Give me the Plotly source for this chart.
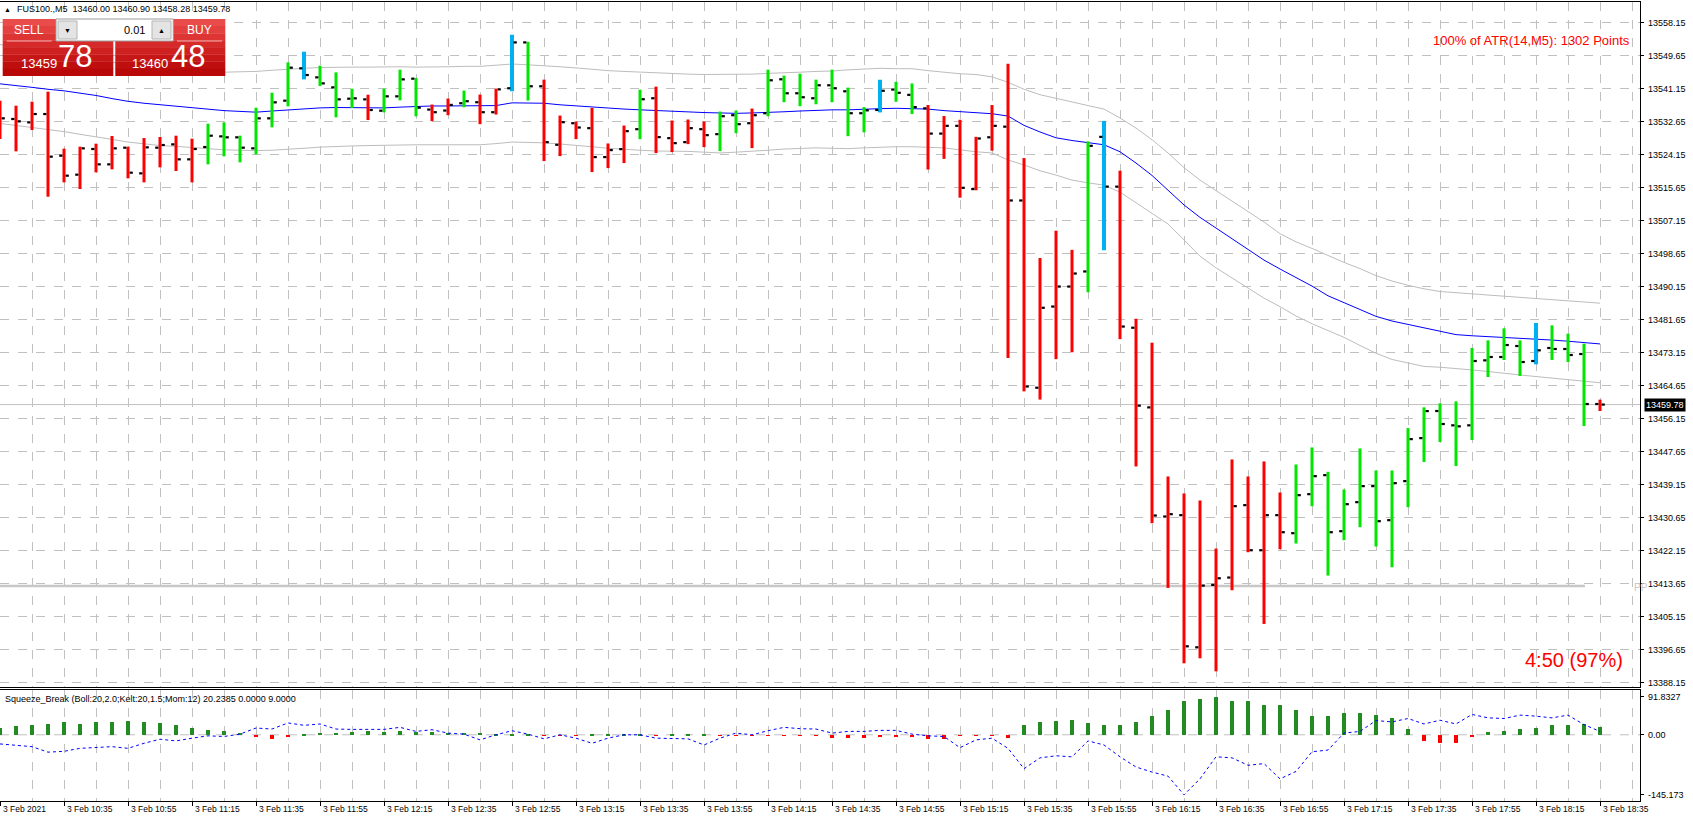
import plotly.graph_objects as go

# FUS100., M5 - bar index 0 = 3 Feb 2021 10:15, one bar every 5 minutes
opens = [
    13536.00, 13533.34, 13532.48, 13534.62, 13523.89, 13519.00, 13525.61, 13521.66, 13525.95, 13519.34,
    13525.95, 13526.81, 13522.95, 13526.12, 13528.87, 13528.62, 13525.78, 13533.51, 13538.06, 13546.39,
    13544.07, 13541.49, 13538.57, 13538.40, 13535.48, 13539.18, 13543.73, 13535.77, 13535.52, 13537.40,
    13537.66, 13535.09, 13541.26, 13553.07, 13541.77, 13526.70, 13532.26, 13530.98, 13523.53, 13525.58,
    13530.72, 13538.69, 13528.41, 13527.38, 13530.72, 13529.44, 13534.32, 13532.26, 13534.83, 13543.57,
    13539.97, 13538.69, 13542.03, 13540.48, 13534.83, 13535.67, 13540.93, 13539.56, 13536.09, 13529.58,
    13531.58, 13515.29, 13528.63, 13531.37, 13512.35, 13464.12, 13485.03, 13490.18, 13494.07, 13528.74,
    13515.92, 13479.57, 13459.05, 13430.94, 13431.29, 13397.25, 13413.32, 13415.22, 13433.87, 13422.26,
    13431.29, 13426.65, 13436.70, 13441.60, 13427.16, 13434.64, 13438.77, 13430.00, 13440.06, 13451.14,
    13458.12, 13454.43, 13454.43, 13471.17, 13472.03, 13474.86, 13471.00, 13474.35, 13474.09, 13472.80,
    13459.92,
]
highs = [
    13538.06, 13536.77, 13537.80, 13540.38, 13525.70, 13526.21, 13526.98, 13528.96, 13526.21, 13528.44,
    13528.70, 13529.04, 13528.27, 13532.13, 13532.48, 13529.04, 13536.26, 13540.12, 13547.93, 13550.68,
    13547.08, 13545.36, 13541.15, 13539.60, 13541.15, 13546.04, 13543.90, 13537.06, 13538.60, 13540.66,
    13539.63, 13541.17, 13555.04, 13553.24, 13543.48, 13534.23, 13532.69, 13536.20, 13527.04, 13531.66,
    13540.91, 13541.68, 13532.95, 13533.21, 13532.69, 13535.26, 13535.52, 13536.03, 13546.05, 13544.51,
    13545.02, 13543.48, 13546.05, 13541.43, 13536.41, 13543.45, 13542.92, 13542.50, 13536.94, 13534.10,
    13533.15, 13528.74, 13536.94, 13547.55, 13523.28, 13497.53, 13504.57, 13499.64, 13527.58, 13532.84,
    13520.02, 13481.88, 13475.72, 13441.26, 13436.88, 13435.07, 13422.69, 13445.64, 13441.26, 13445.13,
    13437.13, 13444.35, 13448.74, 13442.46, 13437.91, 13448.48, 13442.81, 13442.81, 13453.72, 13459.07,
    13460.10, 13460.61, 13474.35, 13476.32, 13479.42, 13476.32, 13480.79, 13480.19, 13478.04, 13475.47,
    13461.04,
]
lows = [
    13528.19, 13525.01, 13530.50, 13513.33, 13517.02, 13515.31, 13519.60, 13520.37, 13518.05, 13517.02,
    13520.89, 13519.94, 13517.02, 13521.66, 13523.72, 13522.18, 13524.24, 13531.19, 13536.60, 13543.55,
    13541.84, 13533.77, 13536.17, 13533.08, 13535.05, 13538.15, 13534.02, 13532.78, 13534.32, 13536.37,
    13532.01, 13534.49, 13540.48, 13538.09, 13522.50, 13523.78, 13528.15, 13519.67, 13520.70, 13521.99,
    13528.15, 13524.56, 13524.81, 13526.87, 13526.10, 13525.07, 13529.69, 13525.84, 13534.06, 13537.66,
    13536.63, 13537.14, 13537.66, 13528.92, 13529.90, 13535.04, 13537.78, 13534.62, 13520.33, 13523.07,
    13513.08, 13514.98, 13525.17, 13471.79, 13463.18, 13461.07, 13471.48, 13473.26, 13488.71, 13499.53,
    13476.63, 13443.84, 13429.22, 13412.55, 13393.13, 13394.42, 13391.06, 13411.95, 13421.75, 13403.27,
    13422.52, 13423.98, 13433.61, 13415.73, 13424.84, 13428.20, 13423.21, 13417.88, 13433.35, 13444.99,
    13450.14, 13443.96, 13450.65, 13466.88, 13471.26, 13467.14, 13470.14, 13471.26, 13470.74, 13454.26,
    13458.12,
]
closes = [
    13533.51, 13532.74, 13534.62, 13523.64, 13518.74, 13525.78, 13521.66, 13525.78, 13519.51, 13526.04,
    13526.64, 13522.95, 13525.61, 13529.04, 13528.62, 13525.95, 13533.51, 13537.63, 13546.56, 13544.67,
    13542.52, 13538.40, 13538.66, 13535.66, 13539.18, 13543.55, 13536.26, 13535.09, 13536.97, 13537.92,
    13535.09, 13540.98, 13553.07, 13541.77, 13527.38, 13532.52, 13531.15, 13523.53, 13525.33, 13530.21,
    13538.43, 13528.67, 13527.12, 13530.98, 13529.18, 13534.06, 13532.01, 13534.32, 13543.31, 13539.97,
    13538.94, 13542.03, 13541.26, 13534.83, 13535.57, 13540.61, 13540.09, 13536.41, 13529.58, 13531.58,
    13515.61, 13528.32, 13531.58, 13512.35, 13464.44, 13484.71, 13490.18, 13493.54, 13526.43, 13515.92,
    13479.88, 13459.50, 13431.20, 13431.55, 13397.51, 13413.15, 13415.04, 13433.61, 13422.26, 13431.29,
    13426.90, 13436.44, 13441.34, 13426.90, 13434.12, 13438.77, 13429.74, 13439.54, 13450.88, 13458.10,
    13454.77, 13454.17, 13471.00, 13472.03, 13475.12, 13470.74, 13473.75, 13474.09, 13472.55, 13459.92,
    13459.78,
]
# r = red, g = green, c = cyan (bar colouring of the indicator)
bar_colors = list(
    "rrrrrrrrrrrrrggggggcgggrgggrrgrrcgrrrrrrgrrrrggrgggggggcggrrrrrrrrrrgcrrrrrrrrrrrgggggggggggggggcgggr"
)

mid_line = [
    13542.4, 13542.0, 13541.5, 13541.0, 13540.6, 13540.0, 13539.4, 13538.6, 13537.9, 13537.4,
    13537.0, 13536.6, 13536.2, 13535.8, 13535.5, 13535.3, 13535.1, 13535.4, 13535.7, 13535.9,
    13536.2, 13536.3, 13536.3, 13536.3, 13536.2, 13536.4, 13536.6, 13536.7, 13536.7, 13536.7,
    13536.8, 13536.8, 13537.5, 13537.5, 13537.4, 13537.0, 13536.7, 13536.4, 13536.1, 13535.9,
    13535.7, 13535.5, 13535.4, 13535.2, 13535.0, 13534.9, 13534.8, 13534.9, 13535.0, 13535.2,
    13535.4, 13535.6, 13535.7, 13535.7, 13535.9, 13536.0, 13536.1, 13536.0, 13535.9, 13535.5,
    13535.2, 13534.9, 13534.7, 13534.1, 13531.7, 13530.0, 13528.5, 13527.8, 13527.2, 13526.7,
    13524.9, 13522.0, 13518.8, 13515.0, 13511.2, 13508.0, 13505.2, 13502.6, 13499.7, 13497.0,
    13494.7, 13492.5, 13490.3, 13487.8, 13486.0, 13484.3, 13482.5, 13481.3, 13480.4, 13479.6,
    13478.6, 13477.8, 13477.5, 13477.3, 13477.1, 13476.9, 13476.7, 13476.4, 13476.1, 13475.8,
    13475.4,
]
upper_band = [
    13552.5, 13552.0, 13551.4, 13550.8, 13550.0, 13549.3, 13548.6, 13547.9, 13547.3, 13546.8,
    13546.4, 13546.0, 13545.7, 13545.5, 13545.4, 13545.5, 13545.6, 13545.9, 13546.2, 13546.4,
    13546.6, 13546.7, 13546.7, 13546.7, 13546.8, 13546.8, 13546.7, 13546.7, 13546.8, 13546.9,
    13546.9, 13547.2, 13547.5, 13547.3, 13547.1, 13546.8, 13546.5, 13546.1, 13545.8, 13545.6,
    13545.4, 13545.2, 13545.0, 13544.9, 13544.8, 13544.8, 13544.9, 13544.9, 13545.1, 13545.2,
    13545.4, 13545.6, 13545.7, 13546.0, 13546.2, 13546.4, 13546.3, 13546.3, 13545.8, 13545.4,
    13545.0, 13544.8, 13544.2, 13542.8, 13541.0, 13539.6, 13538.6, 13537.7, 13536.8, 13535.9,
    13533.6, 13531.0, 13528.0, 13524.6, 13520.8, 13517.6, 13514.9, 13512.3, 13509.7, 13506.8,
    13503.8, 13501.7, 13500.0, 13498.1, 13496.4, 13494.8, 13493.0, 13491.6, 13490.5, 13489.6,
    13488.9, 13488.6, 13488.3, 13488.0, 13487.7, 13487.4, 13487.1, 13486.8, 13486.5, 13486.2,
    13485.9,
]
lower_band = [
    13532.2, 13531.7, 13531.2, 13530.6, 13530.1, 13529.4, 13528.8, 13528.1, 13527.4, 13527.0,
    13526.5, 13526.3, 13526.0, 13525.7, 13525.4, 13525.3, 13525.2, 13525.3, 13525.5, 13525.8,
    13526.1, 13526.3, 13526.4, 13526.5, 13526.6, 13526.6, 13526.7, 13526.7, 13526.7, 13526.7,
    13526.7, 13527.0, 13527.4, 13527.3, 13527.2, 13526.9, 13526.6, 13526.2, 13525.8, 13525.5,
    13525.3, 13525.1, 13525.1, 13525.0, 13524.8, 13524.6, 13524.8, 13525.0, 13525.3, 13525.6,
    13525.8, 13525.9, 13525.8, 13525.7, 13525.9, 13526.1, 13526.2, 13526.2, 13526.0, 13525.9,
    13525.4, 13524.9, 13524.6, 13522.8, 13521.5, 13520.0, 13518.9, 13517.6, 13516.9, 13516.3,
    13514.5, 13511.8, 13509.2, 13506.3, 13502.2, 13498.0, 13495.0, 13492.4, 13489.8, 13487.2,
    13485.0, 13482.6, 13480.6, 13478.8, 13477.1, 13475.0, 13473.0, 13471.4, 13470.5, 13469.6,
    13469.4, 13469.1, 13468.7, 13468.3, 13467.8, 13467.4, 13467.0, 13466.6, 13466.2, 13465.8,
    13465.4,
]

squeeze_hist = [
    18.6, 22.7, 24.3, 26.7, 31.6, 26.7, 31.6, 31.6, 34.0, 31.6,
    29.2, 24.3, 17.0, 12.2, 9.7, 4.9, -4.0, -8.9, -4.0, 2.4,
    4.9, 4.9, 7.3, 9.7, 7.3, 9.7, 7.3, 7.3, 4.9, 4.9,
    4.9, 2.4, 2.4, 1.6, -1.6, -1.6, -1.6, 1.6, 1.6, 1.6,
    0.8, -1.6, 1.6, 1.6, 1.6, -1.6, -1.6, -1.6, -0.8, -1.6,
    -1.6, -1.6, -6.5, -6.5, -6.5, -4.0, -4.0, -4.0, -8.9, -8.9,
    -1.6, -1.6, -1.6, -6.5, 24.3, 31.6, 34.0, 36.5, 29.2, 24.3,
    24.3, 31.6, 46.2, 60.8, 82.6, 87.5, 91.8, 82.6, 82.6, 72.9,
    72.9, 60.8, 46.2, 46.2, 53.5, 53.5, 48.6, 41.3, 14.6, -14.6,
    -18.6, -18.6, -4.0, 7.3, 9.7, 14.6, 17.0, 24.3, 24.3, 26.7,
    20.2,
]
squeeze_mom = [
    -22.1, -24.6, -28.7, -42.0, -40.0, -32.8, -30.3, -28.7, -32.8, -20.5,
    -10.7, -14.8, -8.2, -2.5, -4.1, 1.6, 16.4, 13.9, 28.7, 23.0,
    26.2, 13.9, 13.1, 13.1, 13.1, 18.0, 8.2, 12.3, 4.1, 1.6,
    -12.3, 0.0, 9.8, 1.6, -9.8, 0.0, -8.2, -20.5, -8.2, 0.0,
    0.0, -8.2, -8.2, -9.8, -24.6, -8.2, 4.1, 0.0, 9.8, 18.0,
    14.8, 13.9, 4.1, 8.2, 8.2, 10.7, 10.7, 1.6, -2.5, -4.1,
    -31.2, -12.3, -8.2, -32.8, -82.0, -55.8, -50.8, -53.3, -14.8, -24.6,
    -53.3, -77.9, -90.2, -100.0, -145.2, -106.6, -53.3, -55.8, -73.8, -69.7,
    -106.6, -88.6, -41.0, -36.9, 4.1, 8.2, 34.4, 31.2, 39.4, 26.2,
    35.3, 26.2, 49.2, 41.0, 39.4, 47.6, 45.1, 41.0, 47.6, 24.6,
    8.2,
]

price_ticks = [
    13558.15, 13549.65, 13541.15, 13532.65, 13524.15, 13515.65, 13507.15, 13498.65, 13490.15, 13481.65,
    13473.15, 13464.65, 13456.15, 13447.65, 13439.15, 13430.65, 13422.15, 13413.65, 13405.15, 13396.65,
    13388.15,
]
time_ticks = [0, 4, 8, 12, 16, 20, 24, 28, 32, 36, 40, 44, 48, 52, 56, 60, 64, 68, 72, 76, 80, 84, 88, 92, 96, 100]
time_labels = [
    "3 Feb 2021", "3 Feb 10:35", "3 Feb 10:55", "3 Feb 11:15", "3 Feb 11:35", "3 Feb 11:55",
    "3 Feb 12:15", "3 Feb 12:35", "3 Feb 12:55", "3 Feb 13:15", "3 Feb 13:35", "3 Feb 13:55",
    "3 Feb 14:15", "3 Feb 14:35", "3 Feb 14:55", "3 Feb 15:15", "3 Feb 15:35", "3 Feb 15:55",
    "3 Feb 16:15", "3 Feb 16:35", "3 Feb 16:55", "3 Feb 17:15", "3 Feb 17:35", "3 Feb 17:55",
    "3 Feb 18:15", "3 Feb 18:35",
]
ind_ticks = [91.8327, 0.0, -145.173]
ind_labels = ["91.8327", "0.00", "-145.173"]

current_price = 13459.78
pivot_level = 13413.05

FONT = "Liberation Sans, Arial, sans-serif"
GRID = "#c0c0c0"

# pixel helpers (plot area spans x 0..1640, y 2..801 of the page)
def px(x):
    return x / 1640.0

def py(y):
    return (801.0 - y) / 799.0

bars = list(range(len(opens)))
fig = go.Figure()

# bands and middle line
fig.add_trace(go.Scatter(x=bars, y=upper_band, mode="lines", line=dict(color="#bdbdbd", width=1), hoverinfo="skip"))
fig.add_trace(go.Scatter(x=bars, y=lower_band, mode="lines", line=dict(color="#bdbdbd", width=1), hoverinfo="skip"))
fig.add_trace(go.Scatter(x=bars, y=mid_line, mode="lines", line=dict(color="#0000ff", width=1), hoverinfo="skip"))

# bid line and pivot line
fig.add_trace(go.Scatter(x=[0, 102.5], y=[current_price, current_price], mode="lines",
                         line=dict(color="#c0c0c0", width=1), hoverinfo="skip"))
fig.add_trace(go.Scatter(x=[0, 99.06], y=[pivot_level, pivot_level], mode="lines",
                         line=dict(color="#c8c8c8", width=2.5), hoverinfo="skip"))

# OHLC bars: coloured high-low stick, black open/close ticks
palette = {"r": "#ff0000", "g": "#00e600", "c": "#00b0f0"}
for code, col in palette.items():
    xs, ys = [], []
    for i in bars:
        if bar_colors[i] == code:
            xs += [i, i, None]
            ys += [lows[i], highs[i], None]
    fig.add_trace(go.Scatter(x=xs, y=ys, mode="lines",
                             line=dict(color=col, width=4 if code == "c" else 3), hoverinfo="skip"))

tx, ty = [], []
for i in bars:
    tx += [i - 0.3, i - 0.1, None, i + 0.1, i + 0.3, None]
    ty += [opens[i], opens[i], None, closes[i], closes[i], None]
fig.add_trace(go.Scatter(x=tx, y=ty, mode="lines", line=dict(color="#000000", width=2.2), hoverinfo="skip"))

# Squeeze_Break window
fig.add_trace(go.Bar(x=bars, y=squeeze_hist, width=0.31, xaxis="x2", yaxis="y2",
                     marker=dict(color=["#228b22" if v >= 0 else "#ff0000" for v in squeeze_hist],
                                 line=dict(width=0)),
                     hoverinfo="skip"))
fig.add_trace(go.Scatter(x=bars, y=squeeze_mom, mode="lines", xaxis="x2", yaxis="y2",
                         line=dict(color="#0000ff", width=1, dash="dot"), hoverinfo="skip"))

axis_common = dict(range=[0, 102.5], zeroline=False, showline=True, mirror=True, automargin=False,
                   linecolor="#000000", linewidth=1, fixedrange=True)

fig.update_layout(
    width=1693, height=816,
    margin=dict(l=0, r=53, t=2, b=15),
    paper_bgcolor="white", plot_bgcolor="white",
    showlegend=False, bargap=0,
    font=dict(family=FONT, size=9, color="#000000"),
    xaxis=dict(domain=[0, 1], anchor="y", showticklabels=False, ticks="",
               tickmode="linear", tick0=0, dtick=2,
               showgrid=True, gridcolor=GRID, griddash="dash", gridwidth=1, **axis_common),
    yaxis=dict(domain=[0.1427, 1], range=[13387.03, 13563.48], side="right",
               tickmode="array", tickvals=price_ticks, showticklabels=False,
               ticks="outside", ticklen=3, tickcolor="#000000",
               showgrid=True, gridcolor=GRID, griddash="dash", gridwidth=1, automargin=False,
               zeroline=False, showline=True, mirror=True, linecolor="#000000", fixedrange=True),
    xaxis2=dict(domain=[0, 1], anchor="y2", tickmode="array", tickvals=time_ticks, showticklabels=False,
                ticks="outside", ticklen=4, tickcolor="#000000",
                showgrid=True, gridcolor=GRID, griddash="dash", gridwidth=1,
                minor=dict(tickmode="linear", tick0=0, dtick=2, showgrid=True, gridcolor=GRID,
                           griddash="dash", gridwidth=1, ticks=""),
                **axis_common),
    yaxis2=dict(domain=[0, 0.1395], range=[-160.2, 109.5], side="right",
                tickmode="array", tickvals=ind_ticks, showticklabels=False,
                ticks="outside", ticklen=3, tickcolor="#000000",
                showgrid=False, zeroline=False, showline=True, mirror=True, automargin=False,
                linecolor="#000000", fixedrange=True),
)

shapes = [
    dict(type="line", xref="x2", yref="y2", x0=0, x1=102.5, y0=0, y1=0,
         line=dict(color=GRID, width=1, dash="dash"), layer="below"),
]

# one-click trading panel
reds = ["#ea4c4c", "#e44040", "#dd3434", "#d62a2a", "#cf2020", "#c71616", "#bf0e0e", "#b80808"]
top, bottom = 19.0, 75.7
step = (bottom - top) / len(reds)
for k, col in enumerate(reds):
    for x0, x1 in [(2.7, 113.3), (115.3, 225.3)]:
        shapes.append(dict(type="rect", xref="paper", yref="paper", layer="above",
                           x0=px(x0), x1=px(x1), y0=py(top + (k + 1) * step + 0.3), y1=py(top + k * step),
                           fillcolor=col, line=dict(width=0)))
shapes += [
    dict(type="rect", xref="paper", yref="paper", layer="above", x0=px(56), x1=px(173.3),
         y0=py(41), y1=py(19), fillcolor="#ffffff", line=dict(color="#9a9a9a", width=1)),
    dict(type="rect", xref="paper", yref="paper", layer="above", x0=px(58), x1=px(77),
         y0=py(39), y1=py(21), fillcolor="#e4e4e4", line=dict(color="#b4b4b4", width=1)),
    dict(type="rect", xref="paper", yref="paper", layer="above", x0=px(152), x1=px(171),
         y0=py(39), y1=py(21), fillcolor="#e4e4e4", line=dict(color="#b4b4b4", width=1)),
    dict(type="line", xref="paper", yref="paper", layer="above", x0=px(6.7), x1=px(51.7),
         y0=py(41), y1=py(41), line=dict(color="#f4b0b0", width=1)),
    dict(type="line", xref="paper", yref="paper", layer="above", x0=px(177), x1=px(222),
         y0=py(41), y1=py(41), line=dict(color="#f4b0b0", width=1)),
]
fig.update_layout(shapes=shapes)


def note(text, x, y, size, color="#000000", anchor="left", **kw):
    fig.add_annotation(text=text, xref="paper", yref="paper", x=px(x), y=py(y),
                       xanchor=anchor, yanchor="middle", showarrow=False,
                       font=dict(family=FONT, size=size, color=color), **kw)


# axis labels as text next to the ticks (MT4 style: left aligned)
for v in price_ticks:
    fig.add_annotation(text=f"{v:.2f}", xref="paper", yref="y", x=px(1646), y=v,
                       xanchor="left", yanchor="middle", showarrow=False,
                       font=dict(family=FONT, size=9, color="#000000"))
for v, t in zip(ind_ticks, ind_labels):
    fig.add_annotation(text=t, xref="paper", yref="y2", x=px(1646), y=v,
                       xanchor="left", yanchor="middle", showarrow=False,
                       font=dict(family=FONT, size=9, color="#000000"))
for v, t in zip(time_ticks, time_labels):
    fig.add_annotation(text=t, xref="x2", yref="paper", x=v, y=py(809), xshift=1,
                       xanchor="left", yanchor="middle", showarrow=False,
                       font=dict(family=FONT, size=8.5, color="#000000"))

note("\u25b2", 2, 9, 7)
note("FUS100.,M5\u00a0 13460.00 13460.90 13458.28 13459.78", 15, 9, 9)
note("SELL", 29, 30, 12, "#ffffff", "center")
note("BUY", 199, 30, 12, "#ffffff", "center")
note("0.01", 147, 30, 11, "#000000", "right")
note("\u25bc", 67.5, 30, 7, "#000000", "center")
note("\u25b2", 161.5, 30, 7, "#000000", "center")
note("13459", 38.5, 63, 13, "#ffffff", "center")
note("78", 75, 57, 31, "#ffffff", "center")
note("13460", 149.5, 63, 13, "#ffffff", "center")
note("48", 187.5, 57, 31, "#ffffff", "center")

note("100% of ATR(14,M5): 1302 Points", 1632, 41, 13, "#ff0000", "right")
note("4:50 (97%)", 1625, 660, 20, "#ff0000", "right")
note("PP", 1632, 587, 10, "#c8c8c8", "left")
note("Squeeze_Break (Boll:20,2.0;Kelt:20,1.5;Mom:12) 20.2385 0.0000 9.0000", 3, 699, 9)
fig.add_annotation(text=f"{current_price:.2f}", xref="paper", yref="y", x=px(1644), y=current_price,
                   xanchor="left", yanchor="middle", showarrow=False, bgcolor="#000000", borderpad=1,
                   font=dict(family=FONT, size=9, color="#ffffff"))

# the page's default body margin would push the 1693x816 figure out of the window
fig.write_html("out.html", config={"displayModeBar": False},
               post_script="document.body.style.margin='0';document.body.style.overflow='hidden';")
